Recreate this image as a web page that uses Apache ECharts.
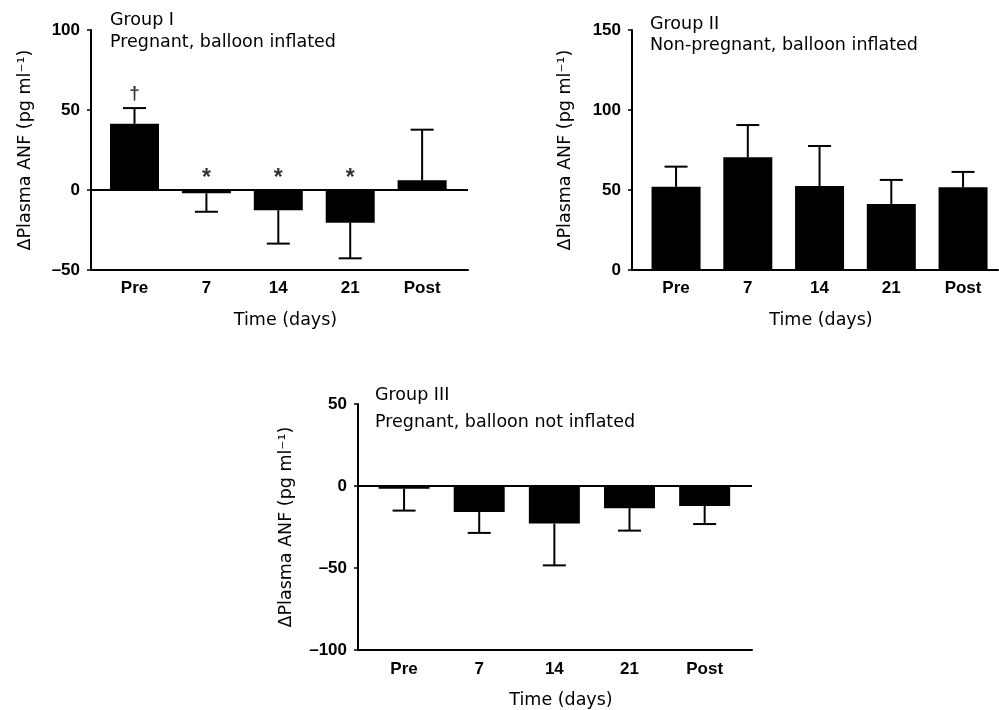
<!DOCTYPE html>
<html>
<head>
<meta charset="utf-8">
<script src="https://cdn.jsdelivr.net/npm/echarts@6/dist/echarts.min.js"></script>
<style>
html,body{margin:0;padding:0;background:#fff;}
#chart{width:999px;height:710px;}
</style>
</head>
<body>
<div id="chart"></div>
<script>
// ---- data ----
const categories = ['Pre', '7', '14', '21', 'Post'];

const g1Title = 'Group I\nPregnant, balloon inflated';
const g1Mean = [41.4, -2.0, -12.6, -20.4, 6.1];
const g1Err = [9.8, 11.6, 20.9, 22.3, 31.6];
const g1Marks = ['†', '*', '*', '*', ''];
const g1Ticks = { min: -50, max: 100, interval: 50 };

const g2Title = 'Group II\nNon-pregnant, balloon inflated';
const g2Mean = [52.0, 70.4, 52.5, 41.3, 51.7];
const g2Err = [12.6, 20.2, 25.0, 15.0, 9.6];
const g2Ticks = { min: 0, max: 150, interval: 50 };

const g3Title = 'Group III\nPregnant, balloon not inflated';
const g3Mean = [-1.7, -15.9, -22.9, -13.5, -12.2];
const g3Err = [13.3, 12.7, 25.5, 13.7, 11.0];
const g3Ticks = { min: -100, max: 50, interval: 50 };

const yName = 'ΔPlasma ANF (pg ml⁻¹)';
const xName = 'Time (days)';

// ---- chart ----
const FONT = '"Liberation Sans", Arial, Helvetica, sans-serif';
const TFONT = '"DejaVu Sans", Verdana, sans-serif';
const TSIZE = 17.5;
const chart = echarts.init(document.getElementById('chart'), null, { renderer: 'canvas' });

const panels = [
  { title: g1Title, mean: g1Mean, err: g1Err, marks: g1Marks, ticks: g1Ticks, zeroLine: true,
    grid: { left: 91, top: 30, width: 377, height: 240 }, xmin: -0.605, xmax: 4.638,
    barW: 49, titlePos: { left: 110, top: 9, lh: 22 }, yGap: 57, xLabMargin: 10 },
  { title: g2Title, mean: g2Mean, err: g2Err, marks: null, ticks: g2Ticks, zeroLine: false,
    grid: { left: 632, top: 30, width: 366, height: 240 }, xmin: -0.614, xmax: 4.487,
    barW: 49, titlePos: { left: 650, top: 14, lh: 21 }, yGap: 58, xLabMargin: 10 },
  { title: g3Title, mean: g3Mean, err: g3Err, marks: null, ticks: g3Ticks, zeroLine: true,
    grid: { left: 358, top: 404, width: 394, height: 246 }, xmin: -0.613, xmax: 4.63,
    barW: 51, titlePos: { left: 375, top: 382, lh: 27 }, yGap: 63, xLabMargin: 11 }
];

const option = {
  animation: false,
  backgroundColor: '#fff',
  textStyle: { fontFamily: FONT, color: '#000' },
  title: [], grid: [], xAxis: [], yAxis: [], series: []
};

panels.forEach((p, k) => {
  option.title.push({
    text: p.title, left: p.titlePos.left, top: p.titlePos.top, padding: 0,
    textStyle: { fontFamily: TFONT, fontSize: TSIZE, fontWeight: 'normal', color: '#000', lineHeight: p.titlePos.lh }
  });
  option.grid.push(Object.assign({ containLabel: false }, p.grid));
  option.xAxis.push({
    type: 'value', gridIndex: k, min: p.xmin, max: p.xmax,
    name: xName, nameLocation: 'middle', nameGap: 41,
    nameTextStyle: { fontFamily: TFONT, fontSize: TSIZE, color: '#000', padding: [0, 0, 0, 12] },
    axisLine: { show: true, onZero: false, lineStyle: { color: '#000', width: 2 } },
    axisTick: { show: false },
    splitLine: { show: false },
    axisLabel: {
      customValues: [0, 1, 2, 3, 4],
      formatter: v => categories[Math.round(v)] || '',
      fontFamily: FONT, fontSize: 17, fontWeight: 'bold', color: '#000', margin: p.xLabMargin
    }
  });
  option.yAxis.push({
    type: 'value', gridIndex: k, min: p.ticks.min, max: p.ticks.max, interval: p.ticks.interval,
    name: yName, nameLocation: 'middle', nameGap: p.yGap,
    nameTextStyle: { fontFamily: TFONT, fontSize: TSIZE, color: '#000' },
    axisLine: { show: true, onZero: false, lineStyle: { color: '#000', width: 2 } },
    axisTick: { show: true, inside: false, length: 4, lineStyle: { color: '#000', width: 1.5 } },
    splitLine: { show: false },
    axisLabel: {
      formatter: v => (v < 0 ? '–' + Math.abs(v) : String(v)),
      fontFamily: FONT, fontSize: 17, fontWeight: 'bold', color: '#000', margin: 11
    }
  });

  const barSeries = {
    type: 'bar', xAxisIndex: k, yAxisIndex: k, barWidth: p.barW,
    data: p.mean.map((v, i) => [i, v]),
    itemStyle: { color: '#000' },
    silent: true
  };
  if (p.zeroLine) {
    barSeries.markLine = {
      silent: true, symbol: 'none', label: { show: false },
      lineStyle: { color: '#000', width: 2, type: 'solid' },
      data: [{ yAxis: 0 }]
    };
  }
  option.series.push(barSeries);

  option.series.push({
    type: 'custom', xAxisIndex: k, yAxisIndex: k, silent: true,
    data: p.mean.map((v, i) => [i, v, p.err[i]]),
    renderItem: (params, api) => {
      const x = api.value(0), m = api.value(1), e = api.value(2);
      const end = m >= 0 ? m + e : m - e;
      const a = api.coord([x, m]);
      const b = api.coord([x, end]);
      const half = 11.5;
      return {
        type: 'group',
        children: [
          { type: 'line', shape: { x1: a[0], y1: a[1], x2: b[0], y2: b[1] }, style: { stroke: '#000', lineWidth: 2 } },
          { type: 'line', shape: { x1: b[0] - half, y1: b[1], x2: b[0] + half, y2: b[1] }, style: { stroke: '#000', lineWidth: 2 } }
        ]
      };
    }
  });

  if (p.marks) {
    option.series.push({
      type: 'scatter', xAxisIndex: k, yAxisIndex: k, silent: true,
      symbolSize: 0,
      data: p.mean.map((v, i) => {
        const star = p.marks[i] === '*';
        return {
          value: [i, v >= 0 ? v + p.err[i] : 0],
          label: { formatter: p.marks[i], fontSize: star ? 23 : 19, distance: star ? 0 : 5 }
        };
      }),
      label: {
        show: true, position: 'top', distance: 5,
        fontFamily: FONT, fontSize: 19, fontWeight: 'bold', color: '#000'
      }
    });
  }
});

chart.setOption(option);
</script>
</body>
</html>
